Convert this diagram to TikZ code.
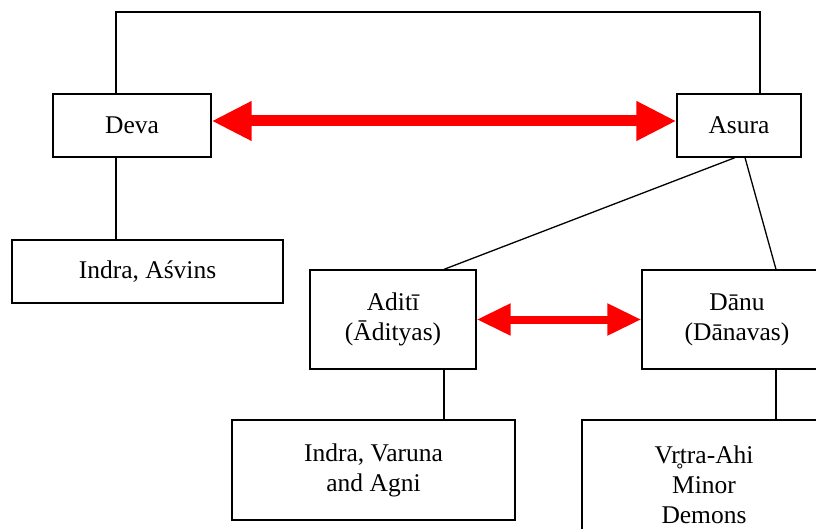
\documentclass[tikz,border=0pt]{standalone}
\usepackage{fontspec}
\setmainfont{Liberation Serif}
\usetikzlibrary{arrows.meta,calc}
\tikzset{
  box/.style={draw=black,line width=1.3pt,rectangle,align=center,inner sep=0pt,
    font=\fontsize{25.5}{30}\selectfont},
  link/.style={draw=black,line width=1.3pt},
  redarrow/.style={draw=red,line width=11pt,
    arrows={Triangle[length=40pt,width=37pt,fill=red]-Triangle[length=40pt,width=37pt,fill=red]}},
  redarrowsmall/.style={draw=red,line width=8pt,
    arrows={Triangle[length=34pt,width=30pt,fill=red]-Triangle[length=34pt,width=30pt,fill=red]}}
}
\begin{document}
\begin{tikzpicture}[x=1pt,y=-1pt]
\useasboundingbox (0,0) rectangle (816,529);
\node[box,minimum width=158pt,minimum height=63pt] (deva) at (132,125.5) {Deva};
\node[box,minimum width=124pt,minimum height=63pt] (asura) at (739,125.5) {Asura};
\node[box,minimum width=271pt,minimum height=63pt] (ia) at (147.5,271.5) {Indra, Aśvins};
\node[box,minimum width=166pt,minimum height=99pt] (aditi) at (393,319.5) {Aditī\\(Ādityas)};
\node[box,minimum width=190pt,minimum height=99pt] (danu) at (737,319.5) {Dānu\\(Dānavas)};
\node[box,minimum width=283pt,minimum height=100pt] (iva) at (373.5,470) {Indra, Varuna\\and Agni};
\node[box,minimum width=244pt,minimum height=130pt] (vrtra) at (704,485) {Vr̥tra-Ahi\\Minor\\Demons};
\coordinate (topL) at (116,12);
\coordinate (topR) at (760,12);
\draw[link] (deva.north -| topL) -- (topL) -- (topR) -- (asura.north -| topR);
\draw[link] (deva.south -| topL) -- (ia.north -| topL);
\draw[link] ($(asura.south)+(-4,0)$) -- ($(aditi.north)+(51,0)$);
\draw[link] ($(asura.south)+(6,0)$) -- ($(danu.north)+(39,0)$);
\draw[link] ($(aditi.south)+(51,0)$) -- ($(iva.north -| aditi.south)+(51,0)$);
\draw[link] ($(danu.south)+(39,0)$) -- ($(vrtra.north -| danu.south)+(39,0)$);
\draw[redarrow] ($(deva.east)+(0,-4.5)$) -- ($(asura.west)+(0,-4.5)$);
\draw[redarrowsmall] (aditi.east) -- (danu.west);
\end{tikzpicture}
\end{document}
